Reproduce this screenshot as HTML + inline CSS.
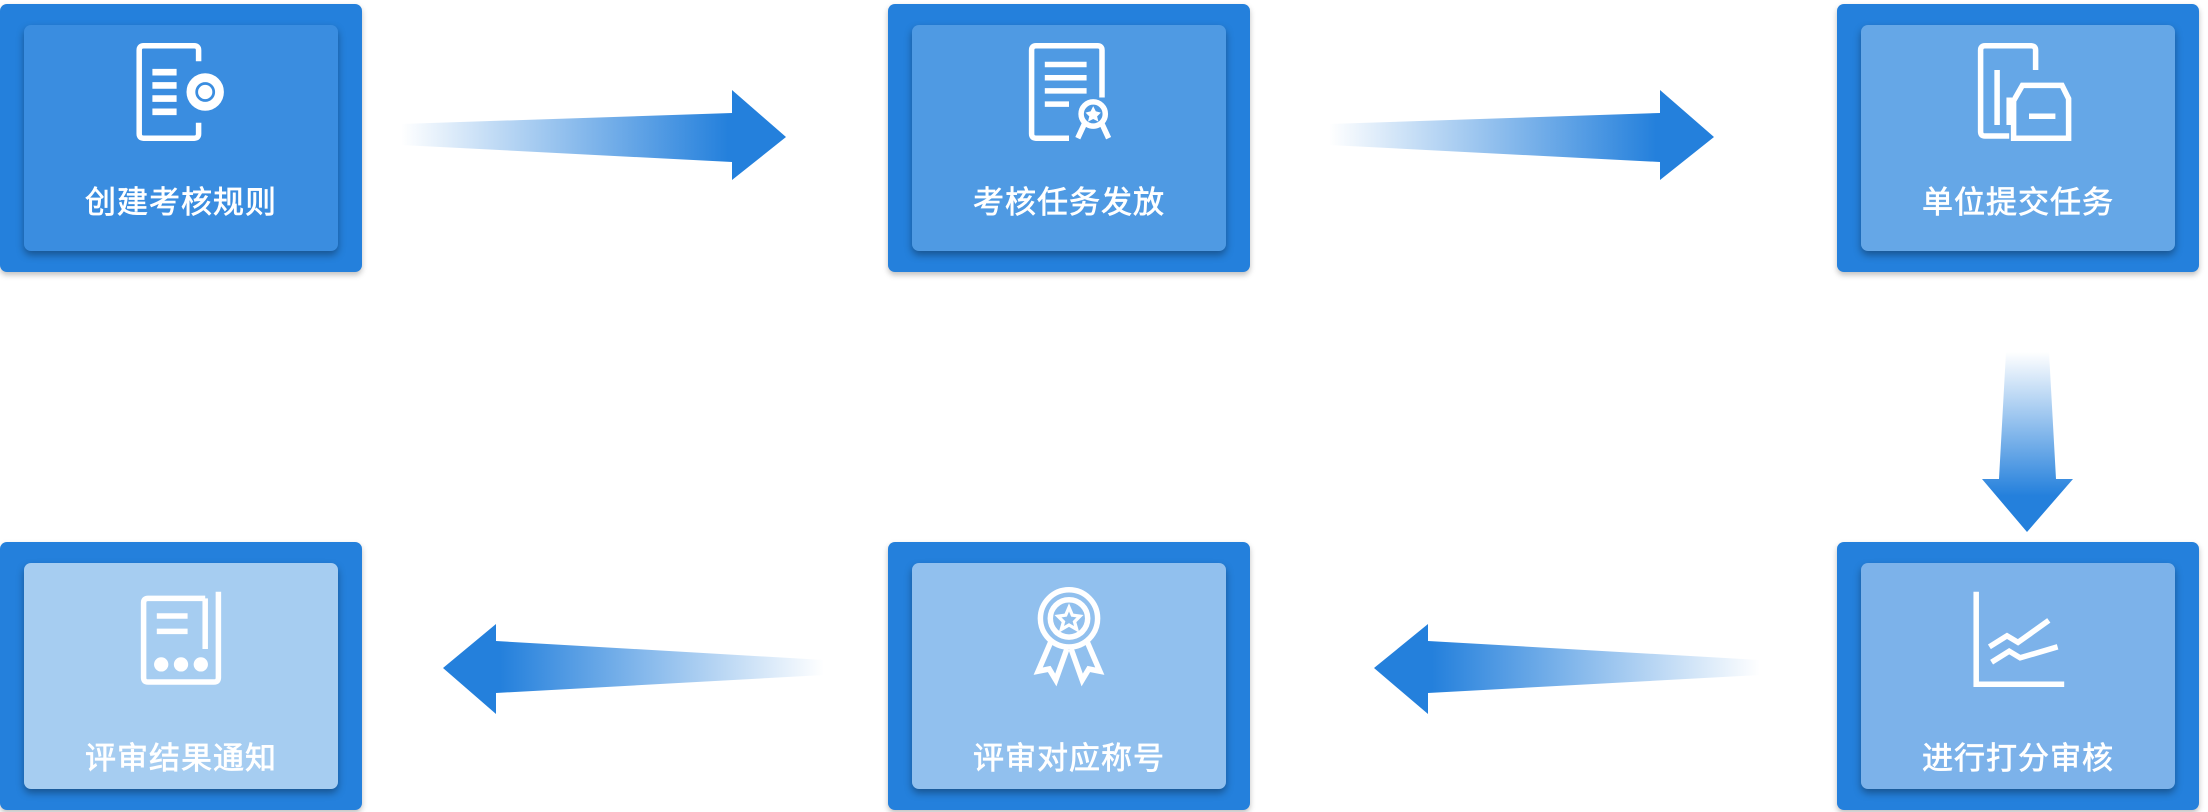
<!DOCTYPE html>
<html><head><meta charset="utf-8"><style>
body{margin:0;width:2208px;height:812px;background:#fff;position:relative;overflow:hidden;font-family:"Liberation Sans","Noto Sans CJK SC",sans-serif}
.o{position:absolute;width:362px;height:268px;background:#2480dc;border-radius:7px;box-shadow:0 3px 6px rgba(0,0,0,.25)}
.i{position:absolute;left:24px;top:21px;width:314px;height:226px;border-radius:7px;box-shadow:0 4px 8px rgba(0,0,0,.35)}
.t{position:absolute;left:0;right:0;text-align:center;color:#fff;font-size:31px;letter-spacing:1px;font-weight:normal;-webkit-text-stroke:0.7px #fff}
.ic{position:absolute;left:102px;width:110px;height:110px}
svg.a{position:absolute;left:0;top:0}
</style></head><body>
<svg class="a" width="2208" height="812">
<defs>
<linearGradient id="gr" x1="0" x2="1" y1="0" y2="0"><stop offset="0" stop-color="#2480dc" stop-opacity="0"/><stop offset="0.85" stop-color="#2480dc"/></linearGradient>
<linearGradient id="gl" x1="1" x2="0" y1="0" y2="0"><stop offset="0" stop-color="#2480dc" stop-opacity="0"/><stop offset="0.85" stop-color="#2480dc"/></linearGradient>
<linearGradient id="gd" x1="0" x2="0" y1="0" y2="1"><stop offset="0" stop-color="#2480dc" stop-opacity="0"/><stop offset="0.8" stop-color="#2480dc"/></linearGradient>
</defs>
<polygon fill="url(#gr)" points="401,124 732,113 732,90 786,137 732,180 732,162 401,145"/>
<polygon fill="url(#gr)" points="1329,124 1660,113 1660,90 1714,137 1660,180 1660,162 1329,145"/>
<polygon fill="url(#gd)" points="2006,352 2049,352 2056,479 2073,479 2027,532 1982,479 1999,479"/>
<polygon fill="url(#gl)" points="824,660 496,641 496,624 443,668 496,714 496,693 824,675"/>
<polygon fill="url(#gl)" points="1760,660 1428,641 1428,624 1374,668 1428,714 1428,693 1760,675"/>
</svg>

<div class="o" style="left:0;top:4px"><div class="i" style="background:#3a8de0">
<svg class="ic" style="top:12px" viewBox="0 0 100 100" fill="none" stroke="#fff" stroke-width="5"><path d="M66 22V12Q66 8 62 8H16Q12 8 12 12V88Q12 92 16 92H62Q66 92 66 88V78"/><path d="M24 32H46M24 44H46M24 56H46M24 68H46" stroke-width="6"/><circle cx="72" cy="50" r="13" stroke-width="8"/><circle cx="72" cy="50" r="4" fill="#fff"/></svg>
<div class="t" style="top:152px">创建考核规则</div></div></div>

<div class="o" style="left:888px;top:4px"><div class="i" style="background:#4f9ae3">
<svg class="ic" style="top:12px" viewBox="0 0 100 100" fill="none" stroke="#fff" stroke-width="5"><path d="M50 92H20Q16 92 16 88V12Q16 8 20 8H76Q80 8 80 12V55"/><path d="M28 25H66M28 37H66M28 49H66M28 61H50"/><circle cx="72" cy="70" r="11"/><path d="M72 64L74 68L78 69L75 72L76 76L72 74L68 76L69 72L66 69L70 68Z" fill="#fff" stroke-width="1"/><path d="M64 79L58 92M80 79L86 92"/></svg>
<div class="t" style="top:152px">考核任务发放</div></div></div>

<div class="o" style="left:1837px;top:4px"><div class="i" style="background:#65a7e7">
<svg class="ic" style="top:12px" viewBox="0 0 100 100" fill="none" stroke="#fff" stroke-width="5"><path d="M42 90H20Q16 90 16 86V12Q16 8 20 8H62Q66 8 66 12V30"/><path d="M31 30V80M42 55V80"/><path d="M46 92V58L54 44H90L96 56V92Z"/><path d="M60 72H84"/></svg>
<div class="t" style="top:152px">单位提交任务</div></div></div>

<div class="o" style="left:1837px;top:542px"><div class="i" style="background:#7cb2ea">
<svg class="ic" style="top:20px" viewBox="0 0 100 100" fill="none" stroke="#fff" stroke-width="5"><path d="M12 8V92H92"/><path d="M24 58L40 48L50 54L78 34M26 72L42 62L52 68L86 58"/></svg>
<div class="t" style="top:170px">进行打分审核</div></div></div>

<div class="o" style="left:888px;top:542px"><div class="i" style="background:#91c0ee">
<svg class="ic" style="top:18px" viewBox="0 0 100 100" fill="none" stroke="#fff" stroke-width="5"><circle cx="50" cy="34" r="26"/><circle cx="50" cy="34" r="17"/><path d="M50 24L53 31L60 32L55 37L57 44L50 40L43 44L45 37L40 32L47 31Z" stroke-width="3"/><path d="M34 54L22 82L32 80L38 90L48 62M66 54L78 82L68 80L62 90L52 62"/></svg>
<div class="t" style="top:170px">评审对应称号</div></div></div>

<div class="o" style="left:0;top:542px"><div class="i" style="background:#a6cdf1">
<svg class="ic" style="top:20px" viewBox="0 0 100 100" fill="none" stroke="#fff" stroke-width="5"><path d="M72 14H20Q16 14 16 18V86Q16 90 20 90H80Q84 90 84 86V8"/><path d="M28 30H56M28 44H56M72 14V60"/><circle cx="32" cy="74" r="4" fill="#fff"/><circle cx="50" cy="74" r="4" fill="#fff"/><circle cx="68" cy="74" r="4" fill="#fff"/></svg>
<div class="t" style="top:170px">评审结果通知</div></div></div>
</body></html>
